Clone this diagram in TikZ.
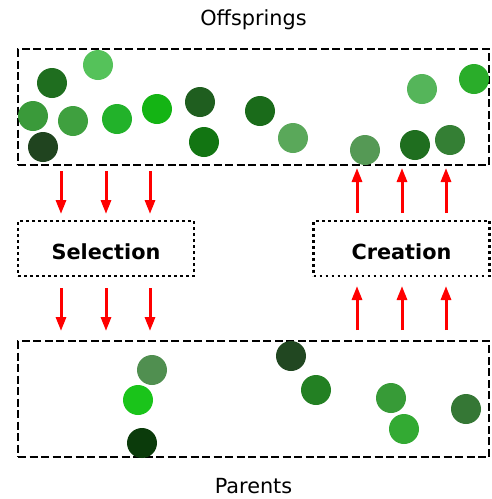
\documentclass[tikz,border=0pt]{standalone}
\usepackage{fontspec}
\setmainfont{DejaVu Sans}
\usetikzlibrary{arrows.meta}
\definecolor{cA}{HTML}{55C25A}
\definecolor{cB}{HTML}{1F6E1F}
\definecolor{cC}{HTML}{3A9A3A}
\definecolor{cD}{HTML}{3FA03F}
\definecolor{cE}{HTML}{22B22A}
\definecolor{cF}{HTML}{14B414}
\definecolor{cG}{HTML}{1F5E1F}
\definecolor{cH}{HTML}{127512}
\definecolor{cI}{HTML}{20441F}
\definecolor{cJ}{HTML}{1A6B1A}
\definecolor{cK}{HTML}{5AA85A}
\definecolor{cL}{HTML}{559955}
\definecolor{cM}{HTML}{1F6E1F}
\definecolor{cN}{HTML}{347F34}
\definecolor{cO}{HTML}{55B55A}
\definecolor{cP}{HTML}{2AAD2A}
\definecolor{dA}{HTML}{508F50}
\definecolor{dB}{HTML}{1AC41A}
\definecolor{dC}{HTML}{0B3B0B}
\definecolor{dD}{HTML}{214721}
\definecolor{dE}{HTML}{238023}
\definecolor{dF}{HTML}{379B37}
\definecolor{dG}{HTML}{33AA33}
\definecolor{dH}{HTML}{357735}
\tikzset{
  popbox/.style={draw=black, line width=2.5pt, dash pattern=on 8pt off 3.5pt, minimum width=471pt, minimum height=116pt, inner sep=0pt},
  opbox/.style={draw=black, line width=2.7pt, dash pattern=on 2.7pt off 3.3pt, minimum width=176pt, minimum height=55pt, inner sep=0pt, text height=21.6pt, text depth=0pt, font=\fontsize{20.8}{25}\selectfont\bfseries},
  lbl/.style={font=\fontsize{20.8}{25}\selectfont, inner sep=0pt, anchor=base},
  arr/.style={draw=red, line width=3pt, -{Triangle[length=14pt,width=10pt]}}
}
\begin{document}
\begin{tikzpicture}[x=1pt,y=-1pt]
\useasboundingbox (0,0) rectangle (491,499);
\node[popbox] (off) at (253.5,107) {};
\node[popbox] (par) at (253.5,399) {};
\node[opbox] (sel) at (106,248.5) {Selection};
\node[opbox] (cre) at (401.5,248.5) {Creation};
\node[lbl] (toff) at (253.5,25.5) {Offsprings};
\node[lbl] (tpar) at (253.5,493.3) {Parents};
% top box circles
\fill[cA] (98,65) circle (15);
\fill[cB] (52,83) circle (15);
\fill[cC] (33,116) circle (15);
\fill[cD] (73,121) circle (15);
\fill[cE] (117,119) circle (15);
\fill[cF] (157,109) circle (15);
\fill[cG] (200,102) circle (15);
\fill[cH] (204,142) circle (15);
\fill[cI] (43,147) circle (15);
\fill[cJ] (260,111) circle (15);
\fill[cK] (293,138) circle (15);
\fill[cL] (365,150) circle (15);
\fill[cM] (415,145) circle (15);
\fill[cN] (450,140) circle (15);
\fill[cO] (422,89) circle (15);
\fill[cP] (474,79) circle (15);
% bottom box circles
\fill[dA] (152,370) circle (15);
\fill[dB] (138,400) circle (15);
\fill[dC] (142,443) circle (15);
\fill[dD] (291,356) circle (15);
\fill[dE] (316,390) circle (15);
\fill[dF] (391,398) circle (15);
\fill[dG] (404,429) circle (15);
\fill[dH] (466,409) circle (15);
% arrow endpoints
\foreach \x [count=\i] in {61,106,150} {
  \coordinate (sa\i) at (\x,171);
  \coordinate (sb\i) at (\x,214);
  \coordinate (sc\i) at (\x,288);
  \coordinate (sd\i) at (\x,331);
  \draw[arr] (sa\i) -- (sb\i);
  \draw[arr] (sc\i) -- (sd\i);
}
\foreach \x [count=\i] in {357,402,446} {
  \coordinate (ca\i) at (\x,213);
  \coordinate (cb\i) at (\x,168);
  \coordinate (cc\i) at (\x,330);
  \coordinate (cd\i) at (\x,286);
  \draw[arr] (ca\i) -- (cb\i);
  \draw[arr] (cc\i) -- (cd\i);
}
\end{tikzpicture}
\end{document}
